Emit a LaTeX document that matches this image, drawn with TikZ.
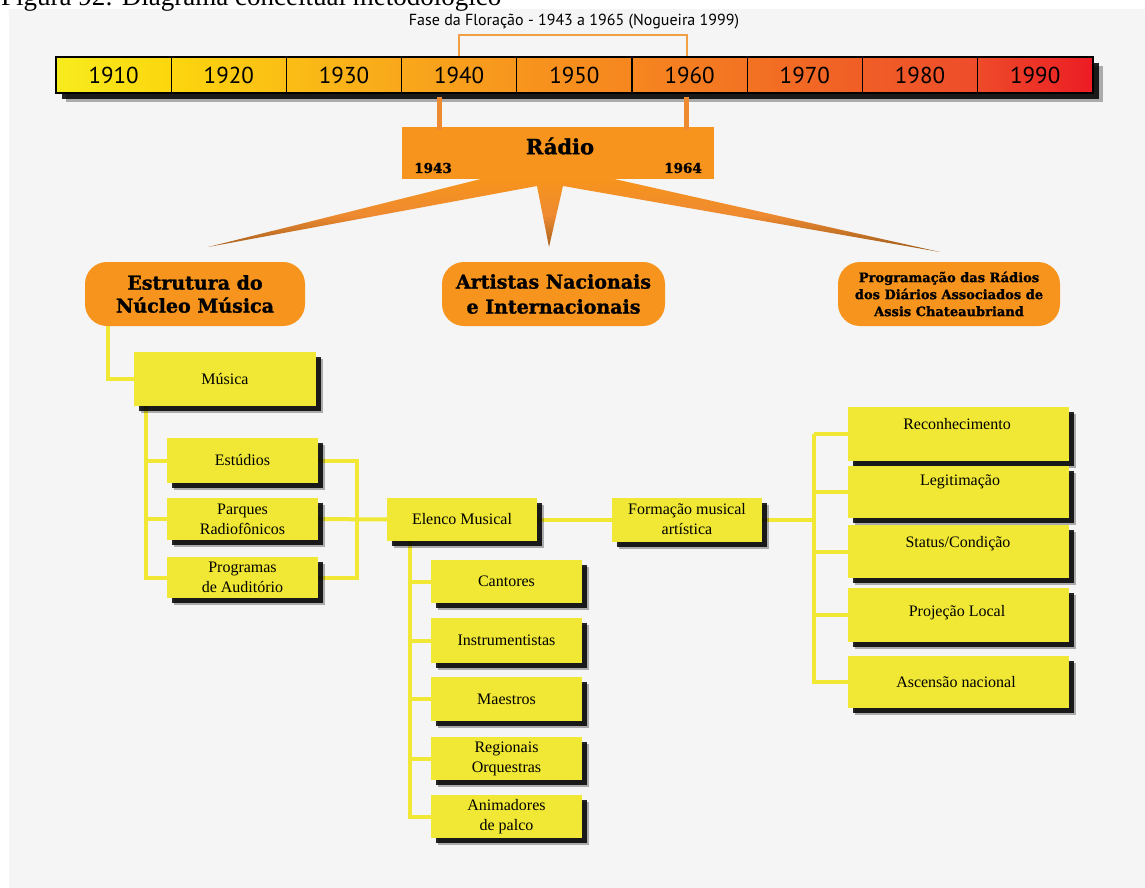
\documentclass[tikz,border=0pt]{standalone}
\usepackage{fontspec}
\setmainfont{Liberation Serif}
\newfontfamily\sansf{PT Sans}
\newfontfamily\heavyf{DejaVu Serif}[BoldFeatures={FakeBold=1.3}]
\usetikzlibrary{shadows,backgrounds}

\definecolor{bgpanel}{HTML}{F5F5F5}
\definecolor{ybox}{HTML}{F0E834}
\definecolor{obox}{HTML}{F7941D}
\definecolor{oline}{HTML}{F2A048}
\definecolor{olinedark}{HTML}{EE8A30}
\definecolor{brownd}{HTML}{9C5A1C}
\definecolor{t0}{HTML}{F7EC1E}
\definecolor{t1}{HTML}{FCD60E}
\definecolor{t2}{HTML}{FBBE15}
\definecolor{t3}{HTML}{F9A81B}
\definecolor{t4}{HTML}{F7961D}
\definecolor{t5}{HTML}{F6871F}
\definecolor{t6}{HTML}{F37422}
\definecolor{t7}{HTML}{F05F26}
\definecolor{t8}{HTML}{EE4E2A}
\definecolor{t9}{HTML}{EC1C24}

\pgfdeclarehorizontalshading{timeline}{100bp}{color(0bp)=(t0); color(25bp)=(t0); color(30.5bp)=(t1); color(36bp)=(t2); color(41.5bp)=(t3); color(47bp)=(t4); color(52.5bp)=(t5); color(58bp)=(t6); color(63.5bp)=(t7); color(69bp)=(t8); color(75bp)=(t9); color(100bp)=(t9)}

\tikzset{
  ybx/.style={fill=ybox, draw=none, inner sep=0pt, align=center,
    font=\fontsize{16}{20}\selectfont,
    general shadow={fill=black, opacity=0.3, shadow xshift=6.5pt, shadow yshift=-7pt},
    general shadow={fill=black, opacity=0.85, shadow xshift=4.5pt, shadow yshift=-5pt}},
  ylabel/.style={inner sep=0pt, align=center, font=\fontsize{16}{20}\selectfont},
  obx/.style={fill=obox, draw=none, rounded corners=22pt, inner sep=0pt, align=center},
  conn/.style={draw=ybox, line width=4pt},
  cell/.style={draw=black, line width=1.2pt, inner sep=0pt, minimum width=115.2pt, minimum height=36pt, font=\sansf\fontsize{23}{23}\selectfont},
}

\begin{document}
\begin{tikzpicture}[x=1pt,y=-1pt]
\useasboundingbox (0,0) rectangle (1145,888);
\begin{pgfonlayer}{background}
\fill[white] (0,0) rectangle (1145,888);
\fill[bgpanel] (9,9) rectangle (1145,888);
\end{pgfonlayer}
\node[anchor=base west, inner sep=0pt, font=\fontsize{27}{27}\selectfont] (caption) at (1,6) {Figura 92: Diagrama conceitual metodológico};

% timeline bar
\node[shading=timeline, draw=black, line width=1.2pt, minimum width=1037pt, minimum height=36pt, inner sep=0pt,
  general shadow={fill=black, opacity=0.3, shadow xshift=10pt, shadow yshift=-9pt},
  general shadow={fill=black, opacity=0.85, shadow xshift=6pt, shadow yshift=-6pt}] (bar) at (574.5,75) {};
\foreach \yr [count=\i from 0] in {1910,1920,1930,1940,1950,1960,1970,1980,1990} {
  \node[cell] (y\yr) at (56+57.6+115.2*\i,75) {\yr};
}

% phase bracket
\coordinate (b1) at (459,35);
\coordinate (b2) at (687,35);
\draw[oline, line width=2.5pt] (b1 |- bar.north) -- (b1) -- (b2) -- (b2 |- bar.north);
\node[font=\sansf\fontsize{16}{16}\selectfont, inner sep=0pt] (phase) at (574,22) {Fase da Floração - 1943 a 1965 (Nogueira 1999)};

% Radio box
\coordinate (l1) at (439,0);
\coordinate (l2) at (686,0);
\node[fill=obox, minimum width=312pt, minimum height=51pt, inner sep=0pt] (radio) at (558,153) {};
\draw[olinedark, line width=5pt] (l1 |- bar.south) ++(0,3) -- (l1 |- radio.north) -- ++(0,3);
\draw[olinedark, line width=5pt] (l2 |- bar.south) ++(0,3) -- (l2 |- radio.north) -- ++(0,3);
\node[font=\heavyf\bfseries\fontsize{21}{21}\selectfont, inner sep=0pt] (radio-t) at (560,146) {Rádio};
\node[font=\heavyf\bfseries\fontsize{13.5}{13.5}\selectfont, inner sep=0pt] (y1943) at (433,168) {1943};
\node[font=\heavyf\bfseries\fontsize{13.5}{13.5}\selectfont, inner sep=0pt] (y1964) at (683,168) {1964};

% wedges
\coordinate (w1) at (483,178.5);
\coordinate (w2) at (208,247);
\coordinate (w3) at (537,186);
\coordinate (w4) at (549,247);
\coordinate (w5) at (563,186);
\coordinate (w6) at (940,252);
\coordinate (w7) at (612,178.5);
\shade[top color=obox, bottom color=brownd, middle color=olinedark] (w1) -- (w2) -- (w3) -- (w4) -- (w5) -- (w6) -- (w7) -- cycle;

% orange rounded boxes
\node[obx, minimum width=220pt, minimum height=64pt, font=\heavyf\bfseries\fontsize{19}{23}\selectfont] (estrutura) at (195,294) {Estrutura do\\Núcleo Música};
\node[obx, minimum width=223pt, minimum height=64pt, font=\heavyf\bfseries\fontsize{19}{25}\selectfont] (artistas) at (553.5,294) {Artistas Nacionais\\e Internacionais};
\node[obx, minimum width=222pt, minimum height=64pt, font=\heavyf\bfseries\fontsize{13}{17}\selectfont] (programacao) at (949,294) {Programação das Rádios\\dos Diários Associados de\\Assis Chateaubriand};

% yellow boxes
\node[ybx, minimum width=182pt, minimum height=54pt] (musica) at (225,379) {Música};
\node[ybx, minimum width=151pt, minimum height=45pt] (estudios) at (242.5,460.5) {Estúdios};
\node[ybx, minimum width=151pt, minimum height=42pt] (parques) at (242.5,519) {Parques\\Radiofônicos};
\node[ybx, minimum width=151pt, minimum height=41pt] (programas) at (242.5,577.5) {Programas\\de Auditório};
\node[ybx, minimum width=150pt, minimum height=43pt] (elenco) at (462,519.5) {Elenco Musical};
\node[ybx, minimum width=150pt, minimum height=44pt] (formacao) at (687,519.5) {Formação musical\\artística};
\node[ybx, minimum width=151pt, minimum height=43pt] (cantores) at (506.5,581.5) {Cantores};
\node[ybx, minimum width=151pt, minimum height=45pt] (instr) at (506.5,640.5) {Instrumentistas};
\node[ybx, minimum width=151pt, minimum height=44pt] (maestros) at (506.5,699) {Maestros};
\node[ybx, minimum width=151pt, minimum height=43pt] (regionais) at (506.5,758.5) {Regionais\\Orquestras};
\node[ybx, minimum width=151pt, minimum height=43pt] (animadores) at (506.5,816.5) {Animadores\\de palco};

\node[ybx, minimum width=221pt, minimum height=54pt] (recon) at (958.5,434) {};
\node[ybx, minimum width=221pt, minimum height=52pt] (legit) at (958.5,492) {};
\node[ybx, minimum width=221pt, minimum height=53pt] (status) at (958.5,551.5) {};
\node[ybx, minimum width=221pt, minimum height=54pt] (projecao) at (958.5,615) {};
\node[ybx, minimum width=221pt, minimum height=52pt] (ascensao) at (958.5,682) {};
\node[ylabel] (recon-t) at (957,424) {Reconhecimento};
\node[ylabel] (legit-t) at (960,482) {Legitimação};
\node[ylabel] (status-t) at (958,544) {Status/Condição};
\node[ylabel] (projecao-t) at (957,613) {Projeção Local};
\node[ylabel] (ascensao-t) at (956,682) {Ascensão nacional};

% connectors
\begin{pgfonlayer}{background}
\coordinate (c1) at (108,326);
\coordinate (m1) at (146,400);
\coordinate (j1) at (357,519);
\coordinate (e1) at (410,535);
\coordinate (rt) at (814,434);
\draw[conn] (c1) |- (musica.west);
\draw[conn] (m1) |- (estudios.west);
\draw[conn] (m1) |- (parques.west);
\draw[conn] (m1) |- (programas.west);
\draw[conn] (estudios.east) -| (j1);
\draw[conn] (programas.east) -| (j1);
\draw[conn] (parques) -- (elenco);
\draw[conn] (elenco) -- (formacao);
\draw[conn] (e1) |- (cantores.west);
\draw[conn] (e1) |- (instr.west);
\draw[conn] (e1) |- (maestros.west);
\draw[conn] (e1) |- (regionais.west);
\draw[conn] (e1) |- (animadores.west);
\draw[conn] (formacao.east) -- (formacao.east -| rt);
\draw[conn] (rt) -- (recon.west);
\draw[conn] (rt) |- (legit.west);
\draw[conn] (rt) |- (status.west);
\draw[conn] (rt) |- (projecao.west);
\draw[conn] (rt) |- (ascensao.west);
\end{pgfonlayer}
\end{tikzpicture}
\end{document}
